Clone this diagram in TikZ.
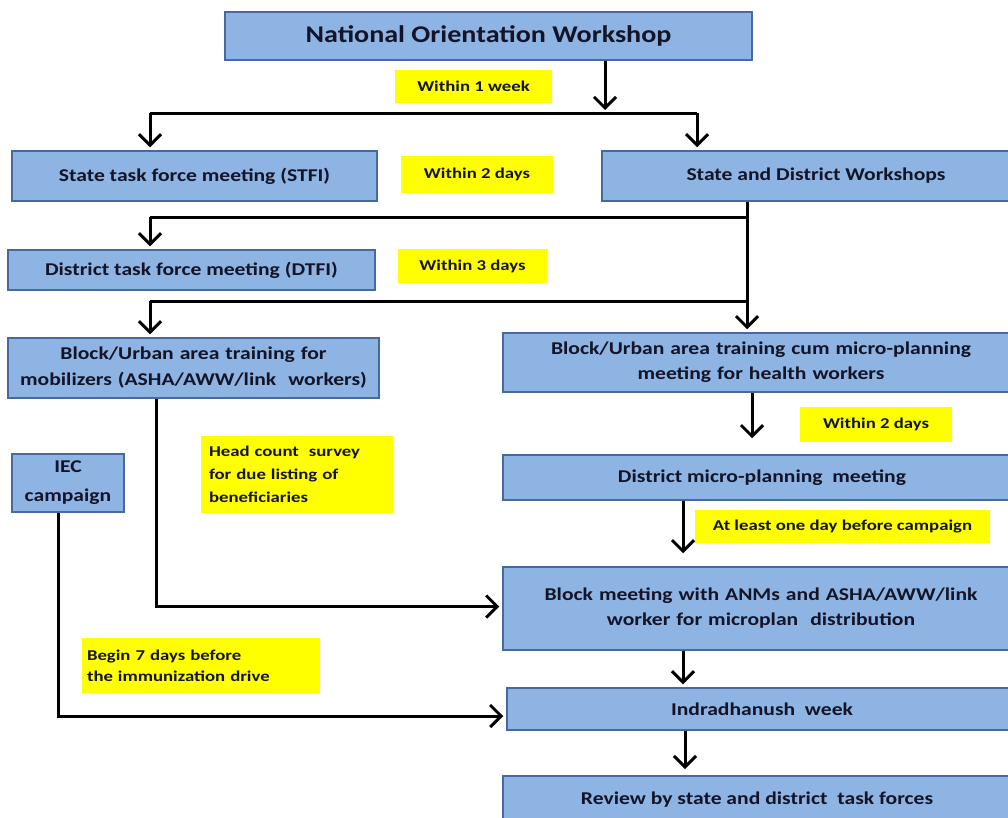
\documentclass[tikz,border=0pt]{standalone}
\usepackage{fontspec}
\setmainfont{Carlito}
\newfontfamily\wide[FakeStretch=1.2]{Carlito}
\newfontfamily\widey[FakeStretch=1.25]{Carlito}
\newfontfamily\widet[FakeStretch=1.17]{Carlito}
\usetikzlibrary{arrows.meta,calc}
\definecolor{boxfill}{RGB}{141,180,226}
\definecolor{boxline}{RGB}{70,105,160}
\definecolor{txt}{RGB}{20,20,40}
\definecolor{hl}{RGB}{255,255,0}
\tikzset{
  bluebox/.style={draw=boxline,fill=boxfill,line width=1.5pt,inner sep=2pt,align=center,text=txt,font=\wide\bfseries\fontsize{18}{26}\selectfont},
  yelbox/.style={fill=hl,inner sep=2pt,text=txt,font=\widey\bfseries\fontsize{15}{23}\selectfont},
  conn/.style={line width=3pt,draw=black},
  arr/.style={conn,-{Straight Barb[length=11pt,width=22pt,line width=3pt]},shorten >=3pt},
}
\begin{document}
\begin{tikzpicture}[x=1pt,y=-1pt]
\useasboundingbox (0,0) rectangle (1008,817);
\clip (0,0) rectangle (1008,817);
\fill[white] (0,0) rectangle (1008,817);
% boxes
\node[bluebox,minimum width=527pt,minimum height=48pt,font=\widet\bfseries\fontsize{24}{28}\selectfont] (now) at (488.5,36) {National Orientation Workshop};
\node[bluebox,minimum width=365pt,minimum height=50pt] (stfi) at (194.5,176) {State task force meeting (STFI)};
\node[bluebox,minimum width=428pt,minimum height=50pt] (sdw) at (816,176) {State and District Workshops};
\node[bluebox,minimum width=367pt,minimum height=40pt] (dtfi) at (191.5,270) {District task force meeting (DTFI)};
\node[bluebox,minimum width=371pt,minimum height=60pt,text width=365pt] (bl) at (193.5,368) {Block/Urban area training for\\mobilizers (ASHA/AWW/link\ \ workers)};
\node[bluebox,minimum width=516pt,minimum height=59pt,text width=500pt,font=\wide\bfseries\fontsize{18}{25}\selectfont] (br) at (761,362.5) {Block/Urban area training cum micro-planning\\meeting for health workers};
\node[bluebox,minimum width=518pt,minimum height=45pt] (dm) at (762,477.5) {District micro-planning\ \ meeting};
\node[bluebox,minimum width=516pt,minimum height=83pt,text width=500pt,font=\wide\bfseries\fontsize{18}{25}\selectfont] (bm) at (761,608.5) {Block meeting with ANMs and ASHA/AWW/link\\worker for microplan\ \ distribution};
\node[bluebox,minimum width=510pt,minimum height=42pt] (iw) at (762,709) {Indradhanush\ \ week};
\node[bluebox,minimum width=508pt,minimum height=60pt,anchor=north] (rv) at (757,775) {};
\node[text=txt,font=\wide\bfseries\fontsize{18}{22}\selectfont] (rvt) at (757,800) {Review by state and district\ \ task forces};
\node[bluebox,minimum width=112pt,minimum height=58pt,text width=106pt,font=\wide\bfseries\fontsize{18}{29}\selectfont] (iec) at (68,483) {IEC\\campaign};
% yellow labels
\node[yelbox,minimum width=157pt,minimum height=33pt] (w1) at (473.5,86.5) {Within 1 week};
\node[yelbox,minimum width=152pt,minimum height=37pt] (w2) at (477,174.5) {Within 2 days};
\node[yelbox,minimum width=149pt,minimum height=34pt] (w3) at (472.5,266) {Within 3 days};
\node[yelbox,minimum width=152pt,minimum height=35pt] (w2b) at (876,424.5) {Within 2 days};
\node[yelbox,minimum width=295pt,minimum height=33pt] (al) at (842.5,526.5) {At least one day before campaign};
\node[yelbox,minimum width=192pt,minimum height=77pt,text width=176pt,align=left] (hc) at (297,474.5) {Head count\ \ survey\\for due listing of\\beneficiaries};
\node[yelbox,minimum width=238pt,minimum height=55pt,text width=228pt,align=left,font=\widey\bfseries\fontsize{15}{21}\selectfont] (b7) at (201,665.5) {Begin 7 days before\\the immunization drive};
% junction coordinates
\coordinate (j1) at (605,113);
\coordinate (jl) at (150,113);
\coordinate (jr) at (697,113);
\coordinate (j2) at (747,217);
\coordinate (j2l) at (150,217);
\coordinate (j3) at (747,301);
\coordinate (j3l) at (150,301);
\coordinate (xa) at (752,0);
\coordinate (xb) at (683,0);
\coordinate (xc) at (685,0);
\coordinate (xl) at (156,0);
\coordinate (xi) at (58,0);
% connectors
\draw[arr] (now.south -| j1) -- (j1);
\draw[conn] (jl) -- (jr);
\draw[arr] (jl) -- (stfi.north -| jl);
\draw[arr] (jr) -- (sdw.north -| jr);
\draw[arr] (sdw.south -| j2) -- (br.north -| j2);
\draw[conn] (j2) -- (j2l);
\draw[arr] (j2l) -- (dtfi.north -| j2l);
\draw[conn] (j3) -- (j3l);
\draw[arr] (j3l) -- (bl.north -| j3l);
\draw[arr,shorten >=16pt] (br.south -| xa) -- (dm.north -| xa);
\draw[arr,shorten >=13pt] (dm.south -| xb) -- (bm.north -| xb);
\draw[arr] (bm.south -| xb) -- (iw.north -| xb);
\draw[arr,shorten >=6pt] (iw.south -| xc) -- (rv.north -| xc);
\draw[arr] (bl.south -| xl) |- ($(bm.west)+(0,-2)$);
\draw[arr] (iec.south -| xi) |- ($(iw.west)+(0,7)$);
\end{tikzpicture}
\end{document}
